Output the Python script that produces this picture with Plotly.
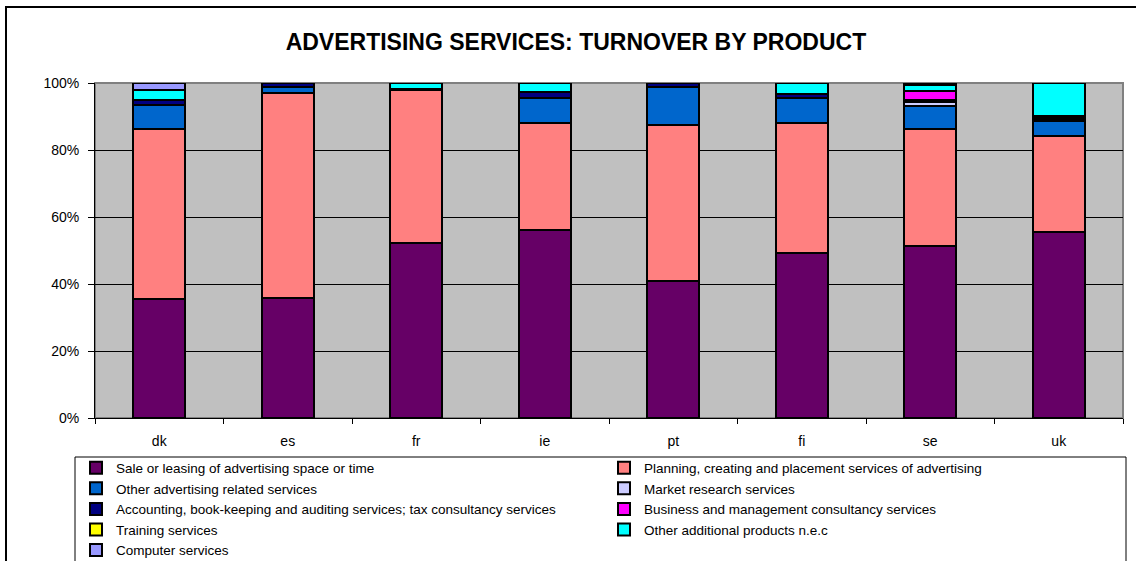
import plotly.graph_objects as go

countries = ["dk", "es", "fr", "ie", "pt", "fi", "se", "uk"]

# Share of turnover (%) by product, per country
sale_leasing = [35.5, 35.8, 52.2, 56.1, 40.9, 49.3, 51.3, 55.5]
planning_creating = [50.8, 61.1, 45.6, 31.9, 46.6, 38.9, 35.0, 28.8]
other_advertising = [7.0, 2.0, 0.5, 7.6, 11.4, 7.3, 6.9, 4.4]
market_research = [0.2, 0.0, 0.0, 0.0, 0.0, 0.0, 1.0, 0.3]
accounting = [1.4, 1.1, 0.0, 1.6, 1.1, 1.2, 0.8, 0.5]
business_consultancy = [0.1, 0.0, 0.0, 0.0, 0.0, 0.0, 2.5, 0.6]
training = [0.0, 0.0, 0.0, 0.0, 0.0, 0.0, 0.2, 0.0]
other_additional = [3.0, 0.0, 1.7, 2.8, 0.0, 3.3, 1.8, 9.9]
computer = [2.0, 0.0, 0.0, 0.0, 0.0, 0.0, 0.5, 0.0]

y_tick_vals = [0, 20, 40, 60, 80, 100]
y_tick_labels = ["0%", "20%", "40%", "60%", "80%", "100%"]

series = [
    ("Sale or leasing of advertising space or time", sale_leasing, "#660066"),
    ("Planning, creating and placement services of advertising", planning_creating, "#FF8080"),
    ("Other advertising related services", other_advertising, "#0066CC"),
    ("Market research services", market_research, "#CCCCFF"),
    ("Accounting, book-keeping and auditing services; tax consultancy services", accounting, "#000080"),
    ("Business and management consultancy services", business_consultancy, "#FF00FF"),
    ("Training services", training, "#FFFF00"),
    ("Other additional products n.e.c", other_additional, "#00FFFF"),
    ("Computer services", computer, "#9999FF"),
]

fig = go.Figure()
for name, vals, col in series:
    fig.add_trace(go.Bar(
        x=countries, y=vals, name=name,
        marker=dict(color=col, line=dict(color="black", width=2)),
    ))

FONT = "Liberation Sans, Arial, sans-serif"

# pixel -> paper helpers for the plot area (l=95, r=13, t=83, b=143)
L, R, T, B, W, H = 95, 13, 83, 143, 1136, 561
PW, PH = W - L - R, H - T - B


def px_x(p):
    return (p - L) / PW


def px_y(p):
    return (H - B - p) / PH


fig.update_layout(
    width=W, height=H,
    margin=dict(l=L, r=R, t=T, b=B, pad=0, autoexpand=False),
    barmode="stack",
    bargap=0.595,
    paper_bgcolor="white",
    plot_bgcolor="#C0C0C0",
    font=dict(family=FONT, size=14, color="black"),
    title=dict(
        text="<b>ADVERTISING SERVICES: TURNOVER BY PRODUCT</b>",
        x=0.507, xanchor="center", y=1 - 42 / H, yanchor="middle",
        font=dict(family=FONT, size=23, color="black"),
    ),
    xaxis=dict(
        showline=True, linecolor="black", linewidth=1,
        ticks="outside", ticklen=5, tickcolor="black", tickson="boundaries",
        showgrid=False, tickfont=dict(size=14), ticklabelstandoff=10,
    ),
    yaxis=dict(
        range=[0, 100], tickmode="array", tickvals=y_tick_vals, ticktext=y_tick_labels,
        showline=True, linecolor="black", linewidth=1,
        ticks="outside", ticklen=6, tickcolor="black",
        showgrid=True, gridcolor="black", gridwidth=1,
        tickfont=dict(size=14), zeroline=False, ticklabelstandoff=6,
    ),
    legend=dict(
        orientation="h", traceorder="normal",
        x=px_x(76), xanchor="left", y=px_y(452.5), yanchor="top",
        entrywidth=483, entrywidthmode="pixels",
        font=dict(family=FONT, size=13.5, color="black"),
        bgcolor="rgba(0,0,0,0)", borderwidth=0,
        itemwidth=30, tracegroupgap=0,
    ),
    shapes=[
        # plot area border
        dict(type="rect", xref="paper", yref="paper", x0=0, x1=1, y0=0, y1=1,
             line=dict(color="#808080", width=2), layer="below"),
        # legend frame
        dict(type="rect", xref="paper", yref="paper",
             x0=px_x(75), x1=px_x(1126), y0=px_y(457), y1=px_y(600),
             line=dict(color="black", width=1)),
        # outer chart frame
        dict(type="rect", xref="paper", yref="paper",
             x0=px_x(6), x1=px_x(1200), y0=px_y(7), y1=px_y(640),
             line=dict(color="black", width=2)),
    ],
)

fig.write_html("out.html")
